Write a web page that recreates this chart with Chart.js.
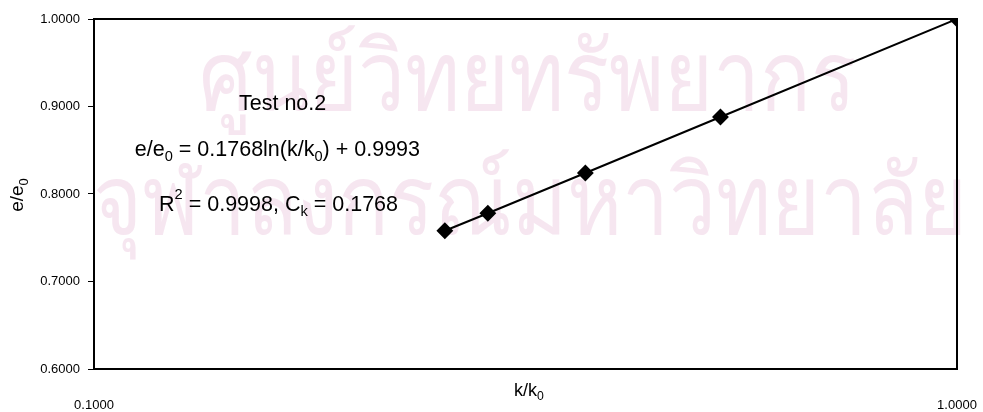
<!DOCTYPE html>
<html>
<head>
<meta charset="utf-8">
<script src="https://cdn.jsdelivr.net/npm/chart.js@4.4.1/dist/chart.umd.min.js"></script>
<style>
    html, body { margin: 0; padding: 0; background: #fff; }
    #wrap { width: 983px; height: 412px; }
</style>
</head>
<body>
<div id="wrap"><canvas id="myChart" width="983" height="412"></canvas></div>
<script>
const ratioK = [0.255, 0.286, 0.371, 0.532, 1.0];
const ratioE = [0.758, 0.778, 0.824, 0.888, 1.0];
const xTickValues = [0.1, 1.0];
const yTickValues = [0.6, 0.7, 0.8, 0.9, 1.0];

const FONT = '"Liberation Sans", Arial, sans-serif';

// draws text made of pieces: [text, 'n' | 'sub' | 'sup']
function drawRich(ctx, parts, x, y, size) {
    let cx = x;
    parts.forEach(function (p) {
        let s = size, dy = 0;
        if (p[1] === 'sub') { s = size * 0.68; dy = size * 0.32; }
        if (p[1] === 'sup') { s = size * 0.68; dy = -size * 0.45; }
        ctx.font = s + 'px ' + FONT;
        ctx.fillText(p[0], cx, y + dy);
        cx += ctx.measureText(p[0]).width;
    });
    return cx - x;
}

function richWidth(ctx, parts, size) {
    let w = 0;
    parts.forEach(function (p) {
        const s = p[1] === 'n' ? size : size * 0.68;
        ctx.font = s + 'px ' + FONT;
        w += ctx.measureText(p[0]).width;
    });
    return w;
}

const watermark = {
    id: 'watermark',
    beforeDatasetsDraw(chart) {
        const ctx = chart.ctx;
        ctx.save();
        ctx.fillStyle = 'rgba(235, 200, 222, 0.45)';
        ctx.textBaseline = 'alphabetic';
        ctx.textAlign = 'center';
        ctx.font = '84px "DejaVu Sans", sans-serif';
        ctx.save();
        ctx.translate(527, 110);
        ctx.scale(1, 1.15);
        ctx.fillText('ศูนย์วิทยทรัพยากร', 0, 0);
        ctx.restore();
        ctx.translate(530, 234);
        ctx.scale(1, 1.15);
        ctx.fillText('จุฬาลงกรณ์มหาวิทยาลัย', 0, 0);
        ctx.restore();
    }
};

const eqLine = [['e/e', 'n'], ['0', 'sub'], [' = 0.1768ln(k/k', 'n'], ['0', 'sub'], [') + 0.9993', 'n']];
const rLine = [['R', 'n'], ['2', 'sup'], [' = 0.9998, C', 'n'], ['k', 'sub'], [' = 0.1768', 'n']];

const frameAndText = {
    id: 'frameAndText',
    afterDatasetsDraw(chart) {
        const ctx = chart.ctx;
        const a = chart.chartArea;
        ctx.save();
        ctx.strokeStyle = '#000';
        ctx.lineWidth = 2;
        ctx.strokeRect(a.left, a.top, a.right - a.left, a.bottom - a.top);

        ctx.fillStyle = '#000';
        ctx.textBaseline = 'middle';
        ctx.textAlign = 'left';
        const fs = 21.5;
        drawRich(ctx, [['Test no.2', 'n']], 239, 104, fs);
        drawRich(ctx, eqLine, 420 - richWidth(ctx, eqLine, fs), 150, fs);
        drawRich(ctx, rLine, 398 - richWidth(ctx, rLine, fs), 205, fs);

        // x axis title
        const xt = [['k/k', 'n'], ['0', 'sub']];
        drawRich(ctx, xt, 529 - richWidth(ctx, xt, 18) / 2, 391, 18);

        // y axis title
        ctx.translate(18, 195);
        ctx.rotate(-Math.PI / 2);
        const yt = [['e/e', 'n'], ['0', 'sub']];
        drawRich(ctx, yt, -richWidth(ctx, yt, 19) / 2, 0, 19);
        ctx.restore();
    }
};

const ctx = document.getElementById('myChart').getContext('2d');
new Chart(ctx, {
    type: 'scatter',
    data: {
        datasets: [{
            label: 'Test no.2',
            data: ratioK.map(function (k, i) { return { x: k, y: ratioE[i] }; }),
            showLine: true,
            borderColor: '#000',
            borderWidth: 2,
            backgroundColor: '#000',
            pointStyle: 'rectRot',
            pointRadius: 7,
            pointHoverRadius: 7
        }]
    },
    options: {
        responsive: false,
        animation: false,
        events: [],
        layout: { padding: { left: 0, right: 26, top: 19, bottom: 0 } },
        plugins: {
            legend: { display: false },
            tooltip: { enabled: false }
        },
        scales: {
            x: {
                type: 'logarithmic',
                min: 0.1,
                max: 1.0,
                afterBuildTicks: function (axis) {
                    axis.ticks = xTickValues.map(function (v) { return { value: v }; });
                },
                afterFit: function (axis) {
                    axis.height = 43;
                    axis.paddingLeft = 0;
                    axis.paddingRight = 0;
                },
                grid: { display: false },
                border: { display: false },
                ticks: {
                    color: '#000',
                    font: { family: FONT, size: 13 },
                    padding: 21,
                    maxRotation: 0,
                    autoSkip: false,
                    callback: function (v) { return Number(v).toFixed(4); }
                }
            },
            y: {
                min: 0.6,
                max: 1.0,
                afterBuildTicks: function (axis) {
                    axis.ticks = yTickValues.map(function (v) { return { value: v }; });
                },
                afterFit: function (axis) { axis.width = 94; },
                grid: { drawOnChartArea: false, tickLength: 6, color: '#000', lineWidth: 1 },
                border: { display: false },
                ticks: {
                    color: '#000',
                    font: { family: FONT, size: 13 },
                    padding: 8,
                    callback: function (v) { return Number(v).toFixed(4); }
                }
            }
        }
    },
    plugins: [watermark, frameAndText]
});
</script>
</body>
</html>
